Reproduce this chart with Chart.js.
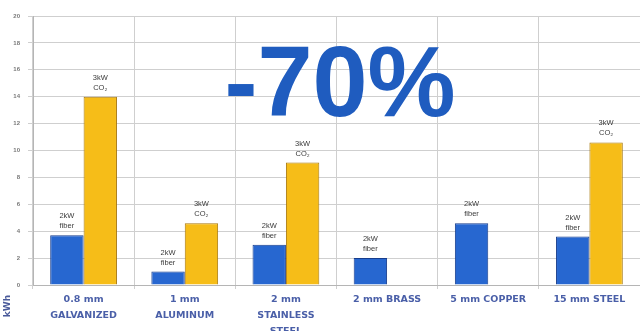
<!DOCTYPE html>
<html>
<head>
<meta charset="utf-8">
<script src="https://cdn.jsdelivr.net/npm/chart.js@4/dist/chart.umd.min.js"></script>
<style>
  html, body { margin: 0; padding: 0; background: #fff; overflow: hidden; }
  canvas { display: block; }
</style>
</head>
<body>
<canvas id="grafico" width="640" height="331"></canvas>
<script>
// materiais e consumo (kWh)
const materiais = [
    ['0.8 mm', 'GALVANIZED'],
    ['1 mm', 'ALUMINUM'],
    ['2 mm', 'STAINLESS', 'STEEL'],
    '2 mm BRASS',
    '5 mm COPPER',
    '15 mm STEEL'
];
const fibra2kW = [3.7, 1.0, 3.0, 2.0, 4.6, 3.6];
const co2_3kW = [14.0, 4.6, 9.1, null, null, 10.6];
const ticksY = [0, 2, 4, 6, 8, 10, 12, 14, 16, 18, 20];
const rotulos = [['2kW', 'fiber'], ['3kW', 'CO₂']];
const destaque = '-70%';

// degradê horizontal dentro de cada barra
function degrade(cor1, cor2, cor3) {
    return (c) => {
        const el = c.element;
        if (!el || el.width == null) return cor2;
        const x0 = el.x - el.width / 2;
        const g = c.chart.ctx.createLinearGradient(x0, 0, x0 + el.width, 0);
        g.addColorStop(0, cor1);
        g.addColorStop(0.45, cor2);
        g.addColorStop(1, cor3);
        return g;
    };
}

// textos sobre as barras + o "-70%"
const extras = {
    id: 'extras',
    afterDatasetsDraw(chart) {
        const ctx = chart.ctx;
        ctx.save();
        ctx.fillStyle = '#3a3a3a';
        ctx.font = '7.5px "Liberation Sans", Arial, sans-serif';
        ctx.textAlign = 'center';
        chart.data.datasets.forEach((ds, i) => {
            chart.getDatasetMeta(i).data.forEach((bar, j) => {
                if (ds.data[j] == null) return;
                ctx.fillText(rotulos[i][0], bar.x, bar.y - 17);
                ctx.fillText(rotulos[i][1], bar.x, bar.y - 7);
            });
        });
        // eixo kWh
        ctx.fillStyle = '#4a5a9a';
        ctx.font = 'bold 9px "DejaVu Sans", sans-serif';
        ctx.translate(8, 306);
        ctx.rotate(-Math.PI / 2);
        ctx.textBaseline = 'middle';
        ctx.fillText('kWh', 0, 0);
        ctx.restore();

        ctx.save();
        ctx.fillStyle = '#1f5cbf';
        ctx.font = 'bold 100px "Liberation Sans", Arial, sans-serif';
        ctx.textAlign = 'center';
        ctx.textBaseline = 'alphabetic';
        ctx.translate(340, 116);
        ctx.scale(0.99, 1);
        ctx.fillText(destaque, 0, 0);
        ctx.restore();
    }
};

new Chart(document.getElementById('grafico'), {
    type: 'bar',
    data: {
        labels: materiais,
        datasets: [
            {
                label: '2kW fiber',
                data: fibra2kW,
                backgroundColor: degrade('#1846a8', '#2767d0', '#1a4fae'),
                borderColor: '#163c8c',
                borderWidth: 1,
                categoryPercentage: 0.66,
                barPercentage: 1
            },
            {
                label: '3kW CO2',
                data: co2_3kW,
                backgroundColor: degrade('#f7c21c', '#f6bd18', '#d89a0c'),
                borderColor: '#a8780c',
                borderWidth: 1,
                categoryPercentage: 0.66,
                barPercentage: 1
            }
        ]
    },
    options: {
        responsive: false,
        animation: false,
        layout: { padding: { top: 16, right: 0, left: 0, bottom: 0 } },
        plugins: { legend: { display: false }, tooltip: { enabled: false } },
        scales: {
            x: {
                offset: true,
                grid: { offset: true, color: '#cfcfcf', drawTicks: true, tickLength: 4 },
                border: { color: '#b5b5b5' },
                ticks: {
                    color: '#4a5fa8',
                    font: { family: '"DejaVu Sans", sans-serif', size: 9.5, weight: 'bold', lineHeight: 1.7 },
                    maxRotation: 0,
                    autoSkip: false,
                    padding: 2
                },
                afterFit: (s) => { s.height = 46; }
            },
            y: {
                min: 0, max: 20,
                afterBuildTicks: (s) => { s.ticks = ticksY.map(v => ({ value: v })); },
                grid: { color: '#cfcfcf', tickLength: 5 },
                border: { color: '#b5b5b5' },
                ticks: {
                    color: '#777',
                    font: { family: '"Liberation Sans", Arial, sans-serif', size: 6, weight: 'bold' },
                    padding: 8
                },
                afterFit: (s) => { s.width = 33; }
            }
        }
    },
    plugins: [extras]
});
</script>
</body>
</html>
